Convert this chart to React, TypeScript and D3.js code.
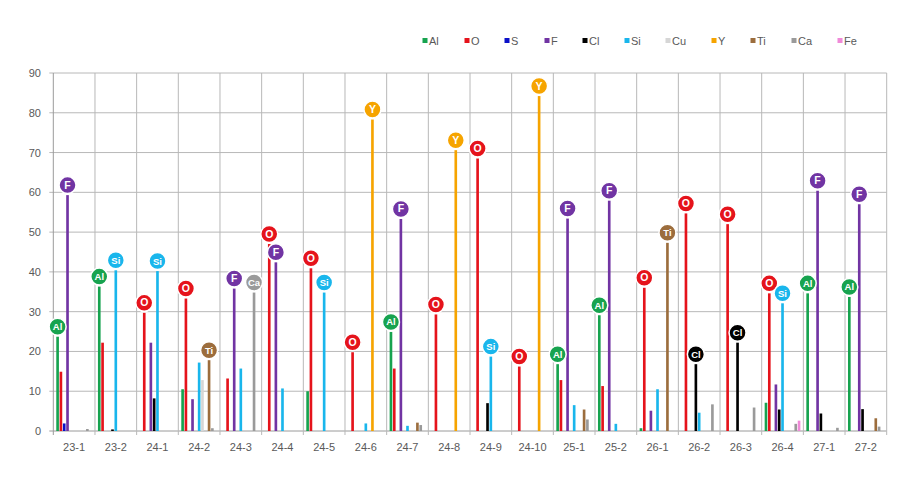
import React from "react";
import * as d3 from "d3";

const categories = ["23-1","23-2","24-1","24-2","24-3","24-4","24-5","24-6","24-7","24-8","24-9","24-10","25-1","25-2","26-1","26-2","26-3","26-4","27-1","27-2"];
const seriesNames = ["Al","O","S","F","Cl","Si","Cu","Y","Ti","Ca","Fe"];
const seriesColors = ["#17a34f","#e5131b","#0b10c8","#7134a3","#000000","#19b6ec","#d6d6d6","#f6a400","#9c6d3d","#9a9a9a","#f08ad8"];

const alValues = [23.7,36.3,0,10.5,0,0,10.0,0,24.9,0,0,0,16.8,29.1,0.7,0,0,7.1,34.6,33.7];
const oValues  = [14.9,22.2,29.7,33.3,13.2,47.0,40.9,19.8,15.7,29.3,68.5,16.2,12.8,11.3,36.0,54.7,52.0,34.6,0,0];
const sValues  = [1.9,0,0,0,0,0,0,0,0,0,0,0,0,0,0,0,0,0,0,0];
const fValues  = [59.3,0,22.2,8.0,35.8,42.4,0,0,53.3,0,0,0,53.4,57.9,5.1,0,0,11.7,60.4,57.0];
const clValues = [0,0.4,8.2,0,0,0,0,0,0,0,7.0,0,0,0,0,16.8,22.2,5.4,4.4,5.5];
const siValues = [0,40.4,40.2,17.2,15.7,10.7,34.8,1.9,1.3,0,18.7,0,6.5,1.8,10.5,4.6,0,32.1,0,0];
const cuValues = [0,0,0,12.8,0,0,0,0,0,0,0,0,0,0,0,0,0,0,0,0];
const yValues  = [0,0,0,0,0,0,0,78.3,0,70.6,0,84.2,0,0,0,0,0,0,0,0];
const tiValues = [0,0,0,17.8,0,0,0,0,2.1,0,0,0,5.4,0,47.3,0,0,0,0,3.2];
const caValues = [0.5,0,0,0.7,34.8,0,0,0,1.5,0,0,0,2.9,0,0,6.7,5.9,1.8,0.8,1.1];
const feValues = [0,0,0,0,0,0,0,0,0,0,0,0,0,0,0,0,0,2.6,0,0];
const seriesValues = [alValues,oValues,sValues,fValues,clValues,siValues,cuValues,yValues,tiValues,caValues,feValues];

const yTicks = [0,10,20,30,40,50,60,70,80,90];

// labelled bars: [category, element]
const labelCats = ["23-1","23-1","23-2","23-2","24-1","24-1","24-2","24-2","24-3","24-3","24-4","24-4","24-5","24-5","24-6","24-6","24-7","24-7","24-8","24-8","24-9","24-9","24-10","24-10","25-1","25-1","25-2","25-2","26-1","26-1","26-2","26-2","26-3","26-3","26-4","26-4","27-1","27-1","27-2","27-2"];
const labelElems = ["Al","F","Al","Si","O","Si","O","Ti","F","Ca","O","F","O","Si","O","Y","Al","F","O","Y","O","Si","O","Y","Al","F","Al","F","O","Ti","O","Cl","O","Cl","O","Si","Al","F","Al","F"];

const legendX = [425,467,507,547,585,627,668,714,753,794,840];

export default function App() {
  const W = 917, H = 497;
  const left = 53.3, right = 886.7, top = 73, bottom = 431;
  const x = d3.scaleBand<string>().domain(categories).range([left, right]).padding(0);
  const xi = d3.scaleBand<string>().domain(seriesNames).range([0, x.bandwidth()]).paddingInner(0.2).paddingOuter(0.9);
  const y = d3.scaleLinear().domain([0, 90]).range([bottom, top]);
  const font = "'Liberation Sans', Arial, sans-serif";
  const textColor = "#595959";
  const gridColor = "#b8b8b8";

  return (
    <svg width={W} height={H} style={{ position: "absolute", left: 0, top: 0, background: "#fff" }} fontFamily={font}>
      <rect x={0} y={0} width={W} height={H} fill="#fff" />
      {/* horizontal gridlines */}
      {yTicks.map((t) => (
        <g key={"g" + t}>
          <line x1={left - 4} x2={right} y1={y(t)} y2={y(t)} stroke={t === 0 ? "#9a9a9a" : gridColor} strokeWidth={1} />
          <text x={41} y={y(t) + 4} textAnchor="end" fontSize={11} fill={textColor}>{t}</text>
        </g>
      ))}
      {/* vertical gridlines */}
      {categories.map((c, i) => (
        <line key={"v" + c} x1={x(c)!} x2={x(c)!} y1={top} y2={bottom + 4} stroke={i === 0 ? "#9a9a9a" : gridColor} strokeWidth={1} />
      ))}
      <line x1={right} x2={right} y1={top} y2={bottom + 4} stroke={gridColor} />
      {/* bars */}
      {seriesNames.map((s, si) => (
        <g key={"s" + s}>
          {categories.map((c, ci) => {
            const v = seriesValues[si][ci];
            if (!v) return null;
            return (
              <rect key={c} x={x(c)! + xi(s)!} y={y(v)} width={xi.bandwidth()} height={bottom - y(v)} fill={seriesColors[si]} />
            );
          })}
        </g>
      ))}
      {/* labels */}
      {labelCats.map((c, k) => {
        const e = labelElems[k];
        const si = seriesNames.indexOf(e);
        const v = seriesValues[si][categories.indexOf(c)];
        const cx = x(c)! + xi(e)! + xi.bandwidth() / 2;
        const cy = y(v) - 10;
        return (
          <g key={"l" + k}>
            <circle cx={cx} cy={cy} r={8.5} fill={seriesColors[si]} stroke="#fff" strokeWidth={1.5} />
            <text x={cx} y={cy + 3.5} textAnchor="middle" fontSize={e.length > 1 ? 9.5 : 10.5} fontWeight="bold" fill="#fff">{e}</text>
          </g>
        );
      })}
      {/* x labels */}
      {categories.map((c) => (
        <text key={"x" + c} x={x(c)! + x.bandwidth() / 2} y={451} textAnchor="middle" fontSize={11} fill={textColor}>{c}</text>
      ))}
      {/* legend */}
      {seriesNames.map((s, i) => (
        <g key={"lg" + s}>
          <rect x={legendX[i] - 2.5} y={38} width={5} height={5} fill={seriesColors[i]} />
          <text x={legendX[i] + 4} y={45} fontSize={11} fill={textColor}>{s}</text>
        </g>
      ))}
    </svg>
  );
}
